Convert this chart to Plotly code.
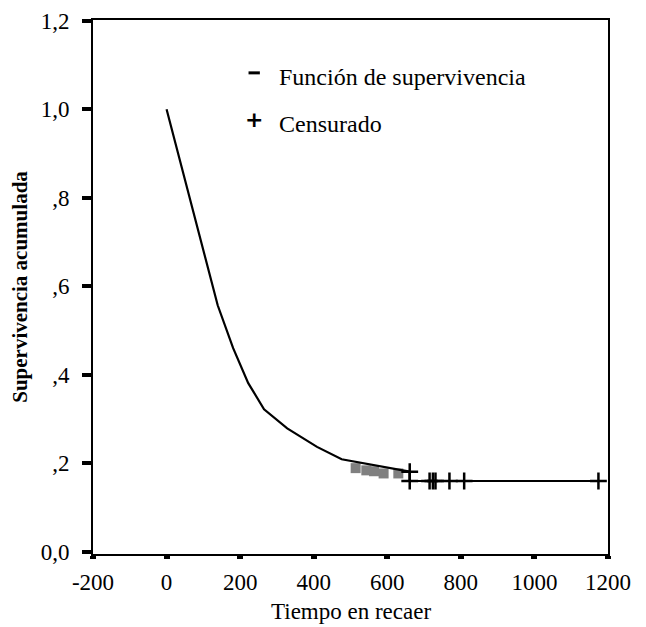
import plotly.graph_objects as go

# ---- data ----
curve_time = [0, 139, 181, 222, 265, 328, 409, 476, 661]
curve_surv = [1.0, 0.557, 0.460, 0.381, 0.322, 0.279, 0.237, 0.209, 0.181]

plateau_time = [643, 1193]
plateau_surv = [0.160, 0.160]

censor_time = [661, 661, 715, 724, 731, 769, 809, 1174]
censor_surv = [0.181, 0.160, 0.160, 0.160, 0.160, 0.160, 0.160, 0.160]

gray_time = [514, 543, 564, 590, 630]
gray_surv = [0.189, 0.184, 0.182, 0.177, 0.177]

x_ticks = [-200, 0, 200, 400, 600, 800, 1000, 1200]
x_ticktext = ["-200", "0", "200", "400", "600", "800", "1000", "1200"]
y_ticks = [0.0, 0.2, 0.4, 0.6, 0.8, 1.0, 1.2]
y_ticktext = ["0,0", ",2", ",4", ",6", ",8", "1,0", "1,2"]

legend_labels = ["Función de supervivencia", "Censurado"]

x_title = "Tiempo en recaer"
y_title = "Supervivencia acumulada"

SERIF = "Liberation Serif, Times New Roman, serif"

fig = go.Figure()

fig.add_trace(go.Scatter(
    x=gray_time, y=gray_surv, mode="markers",
    marker=dict(symbol="square", size=10, color="#808080", line=dict(width=0)),
    hoverinfo="skip", showlegend=False))

fig.add_trace(go.Scatter(
    x=curve_time, y=curve_surv, mode="lines",
    line=dict(color="black", width=2.2), showlegend=False))

fig.add_trace(go.Scatter(
    x=plateau_time, y=plateau_surv, mode="lines",
    line=dict(color="black", width=2.2), showlegend=False))

fig.add_trace(go.Scatter(
    x=censor_time, y=censor_surv, mode="markers",
    marker=dict(symbol="cross-thin", size=12, color="black",
                line=dict(color="black", width=2.5)),
    showlegend=False))

# legend: key symbols + labels
leg_y = [0.893, 0.805]
fig.add_shape(type="line", xref="paper", yref="paper",
              x0=0.302, x1=0.324, y0=leg_y[0] + 0.008, y1=leg_y[0] + 0.008,
              line=dict(color="black", width=3))
fig.add_annotation(xref="paper", yref="paper", x=0.313, y=leg_y[1] + 0.008,
                   text="<b>+</b>", showarrow=False,
                   font=dict(family="DejaVu Sans", size=22, color="black"),
                   xanchor="center", yanchor="middle")
for lab, yy in zip(legend_labels, leg_y):
    fig.add_annotation(xref="paper", yref="paper", x=0.358, y=yy,
                       text=lab, showarrow=False,
                       font=dict(family=SERIF, size=24, color="black"),
                       xanchor="left", yanchor="middle")

# x-axis title placed under the tick labels
fig.add_annotation(xref="paper", yref="paper", x=0.5, y=-0.108,
                   text=x_title, showarrow=False,
                   font=dict(family=SERIF, size=23, color="black"),
                   xanchor="center", yanchor="middle")

# page body adds an 8px offset, so the figure is 8px smaller than the window
fig.update_layout(
    width=638, height=619,
    margin=dict(l=85, r=38, t=12, b=73),
    paper_bgcolor="white", plot_bgcolor="white",
    font=dict(family=SERIF, size=23, color="black"),
    showlegend=False,
)

fig.update_xaxes(
    range=[-200, 1200], tickvals=x_ticks, ticktext=x_ticktext,
    showgrid=False, zeroline=False,
    showline=True, linecolor="black", linewidth=2, mirror=True,
    ticks="outside", ticklen=3, tickwidth=6, tickcolor="black",
    tickfont=dict(family=SERIF, size=23),
    ticklabelstandoff=3,
    automargin=False,
)
fig.update_yaxes(
    range=[-0.005, 1.2016], tickvals=y_ticks, ticktext=y_ticktext,
    showgrid=False, zeroline=False,
    showline=True, linecolor="black", linewidth=2, mirror=True,
    ticks="outside", ticklen=9, tickwidth=4, tickcolor="black",
    tickfont=dict(family=SERIF, size=23),
    ticklabelstandoff=8,
    title=dict(text="<b>" + y_title + "</b>", font=dict(family=SERIF, size=21), standoff=10),
    automargin=False,
)

fig.write_html("out.html")
